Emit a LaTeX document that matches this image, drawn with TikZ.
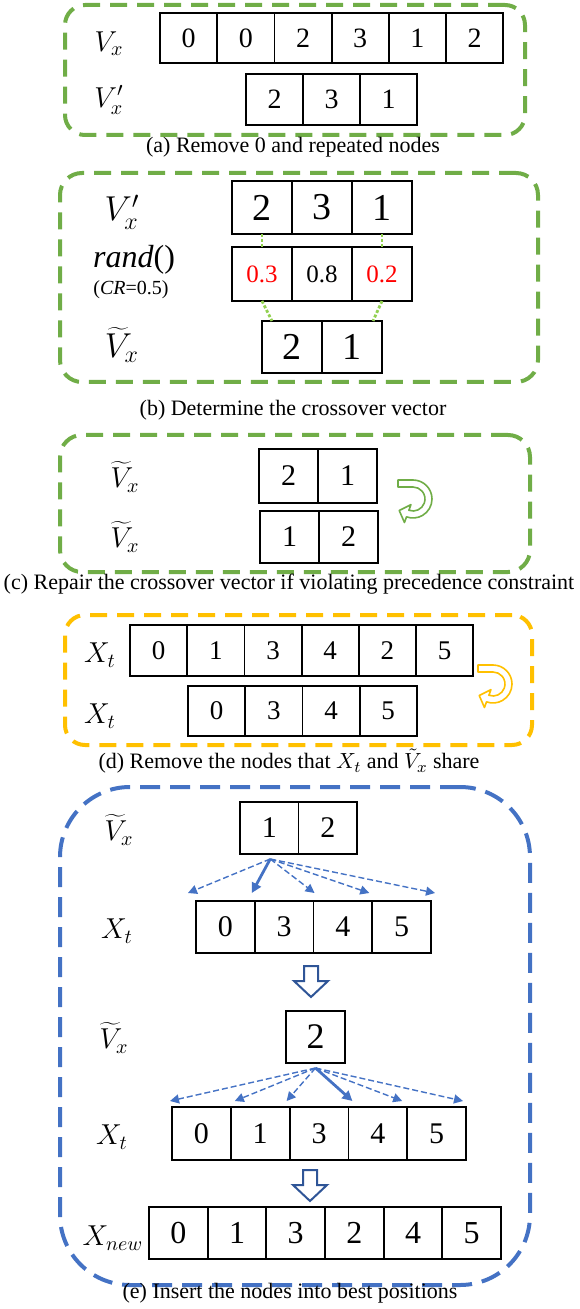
\documentclass[tikz,border=0pt]{standalone}
\usepackage{fontspec}
\setmainfont{Liberation Serif}
\usepackage{tikz}
\usetikzlibrary{arrows.meta, positioning, calc, fit}

\definecolor{boxgreen}{HTML}{70AD47}
\definecolor{dotgreen}{HTML}{92D050}
\definecolor{boxgold}{HTML}{FFC000}
\definecolor{boxblue}{HTML}{4472C4}
\definecolor{arrblue}{HTML}{2F5597}

\begin{document}
\begin{tikzpicture}[
    x=0.5pt, y=-0.5pt,
    cell/.style={draw, line width=0.9pt, inner sep=0pt, outer sep=0pt},
    num/.style={font=\fontsize{#1}{#1}\selectfont},
    lbl/.style={font=\fontsize{#1}{#1}\selectfont},
    lbl/.default=14.5,
    captxt/.style={font=\fontsize{11}{13}\selectfont},
    greenframe/.style={draw=boxgreen, line width=2pt, dash pattern=on 8.5pt off 5pt, rounded corners=10pt, inner sep=0pt},
    goldframe/.style={greenframe, draw=boxgold},
    blueframe/.style={draw=boxblue, line width=2pt, dash pattern=on 10pt off 5pt, rounded corners=35pt, inner sep=0pt},
    link/.style={draw=dotgreen, line width=1.4pt, dash pattern=on 1.5pt off 1pt},
    tryarr/.style={-{Triangle[length=4.5pt,width=4.5pt]}, boxblue, line width=0.7pt, dash pattern=on 3pt off 1.5pt},
    bestarr/.style={-{Triangle[length=5pt,width=5pt]}, boxblue, line width=1.4pt},
    uturn/.style={draw=#1, fill=white, line width=0.8pt, line join=round},
    hollow/.style={draw=arrblue, fill=white, line width=1pt},
  ]
  \useasboundingbox (0,0) rectangle (579,1309);

  % (a) remove 0 and repeated nodes
  \node[greenframe, fit={(65,5) (525,135)}] (framea) {};
  \foreach \val [count=\i] in {0,0,2,3,1,2}
    \node[cell, num=14, minimum width=28.6pt, minimum height=25pt] (va\i) at ({160+57.2*(\i-0.5)},38) {\val};
  \foreach \val [count=\i] in {2,3,1}
    \node[cell, num=14, minimum width=28.5pt, minimum height=25.5pt] (pa\i) at ({246+57*(\i-0.5)},99.5) {\val};
  \node[lbl] (lva) at (109,44) {$V_x$};
  \node[lbl] (lpa) at (109,100) {$V_x'$};
  \node[captxt] (capa) at (293,147) {(a) Remove 0 and repeated nodes};

  % (b) crossover vector
  \node[greenframe, rounded corners=11pt, fit={(60,173) (538,382)}] (frameb) {};
  \foreach \val [count=\i] in {2,3,1}
    \node[cell, num=19, minimum width=30pt, minimum height=26.5pt] (vb\i) at ({232+60*(\i-0.5)},207.5) {\val};
  \foreach \val/\col [count=\i] in {0.3/red,0.8/black,0.2/red}
    \node[cell, num=12.5, text=\col, minimum width=30pt, minimum height=27pt] (rb\i) at ({232+60*(\i-0.5)},274) {\val};
  \foreach \val [count=\i] in {2,1}
    \node[cell, num=19, minimum width=30pt, minimum height=26pt] (tb\i) at ({262+60*(\i-0.5)},347) {\val};
  \node[lbl=17] (lvb) at (122,212) {$V_x'$};
  \node[lbl=16] (lrand) at (134,260) {\textit{rand}()};
  \node[lbl=10] (lcr) at (131,290) {(\textit{CR}=0.5)};
  \node[lbl=17] (ltb) at (122,345) {$\widetilde{V}_x$};
  \draw[link] (vb1.south) -- (rb1.north);
  \draw[link] (vb3.south) -- (rb3.north);
  \draw[link] (rb1.south) -- ($(tb1.north west)+(10,0)$);
  \draw[link] (rb3.south) -- ($(tb2.north east)+(-9,0)$);
  \node[captxt] (capb) at (293,410) {(b) Determine the crossover vector};

  % (c) repair
  \node[greenframe, rounded corners=11pt, fit={(60,435) (530,572)}] (framec) {};
  \foreach \val [count=\i] in {2,1}
    \node[cell, num=15, minimum width=29.5pt, minimum height=27pt] (vc\i) at ({259+59*(\i-0.5)},476) {\val};
  \foreach \val [count=\i] in {1,2}
    \node[cell, num=15, minimum width=29.5pt, minimum height=26pt] (wc\i) at ({260+59*(\i-0.5)},537) {\val};
  \node[lbl] (lvc) at (125,477) {$\widetilde{V}_x$};
  \node[lbl] (lwc) at (125,537) {$\widetilde{V}_x$};
  \begin{scope}[shift={(413,499)}]
    \draw[uturn=boxgreen] (-15,-19) -- (0,-19) arc[start angle=-90, end angle=110, radius=19]
      -- (110:25) -- (-13.8,11.5) -- (110:6) -- (110:12)
      arc[start angle=110, end angle=-90, radius=12] -- (-15,-12) -- cycle;
  \end{scope}
  \node[captxt] (capc) at (289,584) {(c) Repair the crossover vector if violating precedence constraint};

  % (d) remove shared nodes
  \node[goldframe, fit={(65,615) (532,745)}] (framed) {};
  \foreach \val [count=\i] in {0,1,3,4,2,5}
    \node[cell, num=13.5, minimum width=28.6pt, minimum height=25.5pt] (xd\i) at ({130+57.2*(\i-0.5)},650.5) {\val};
  \foreach \val [count=\i] in {0,3,4,5}
    \node[cell, num=13.5, minimum width=28.6pt, minimum height=25pt] (yd\i) at ({188+57.2*(\i-0.5)},711) {\val};
  \node[lbl] (lxd) at (100,655) {$X_t$};
  \node[lbl] (lyd) at (100,716) {$X_t$};
  \begin{scope}[shift={(493,684)}]
    \draw[uturn=boxgold] (-15,-19) -- (0,-19) arc[start angle=-90, end angle=110, radius=19]
      -- (110:25) -- (-13.8,11.5) -- (110:6) -- (110:12)
      arc[start angle=110, end angle=-90, radius=12] -- (-15,-12) -- cycle;
  \end{scope}
  \node[captxt] (capd) at (289,761) {(d) Remove the nodes that $X_t$ and $\tilde{V}_x$ share};

  % (e) insert into best positions
  \node[blueframe, fit={(60,787) (530,1285)}] (framee) {};
  \foreach \val [count=\i] in {1,2}
    \node[cell, num=15, minimum width=29.25pt, minimum height=26pt] (ve\i) at ({240+58.5*(\i-0.5)},828) {\val};
  \foreach \val [count=\i] in {0,3,4,5}
    \node[cell, num=15, minimum width=29.4pt, minimum height=26pt] (fe\i) at ({196+58.75*(\i-0.5)},927) {\val};
  \node[lbl] (lve) at (119,830) {$\widetilde{V}_x$};
  \node[lbl] (lfe) at (117,931) {$X_t$};
  \coordinate (src1) at ($(ve1.south)+(1,5)$);
  \foreach \a/\dx/\st [count=\k] in {fe1.north west/-8/tryarr, fe1.north east/-3/bestarr,
      fe2.north east/1/tryarr, fe3.north east/-3/tryarr, fe4.north east/4/tryarr} {
    \coordinate (ta\k) at ($(\a)+(\dx,-8)$);
    \draw[\st] (src1) -- (ta\k);
  }
  \draw[hollow, shift={(311,966)}] (-7,0) -- (7,0) -- (7,15) -- (17,15) -- (0,31) -- (-17,15) -- (-7,15) -- cycle;

  \node[cell, num=18, minimum width=29.5pt, minimum height=26pt] (ge1) at (315.5,1037) {2};
  \foreach \val [count=\i] in {0,1,3,4,5}
    \node[cell, num=15, minimum width=29.4pt, minimum height=26.5pt] (he\i) at ({172+58.8*(\i-0.5)},1133.5) {\val};
  \node[lbl] (lge) at (114,1038) {$\widetilde{V}_x$};
  \node[lbl] (lhe) at (112,1137) {$X_t$};
  \coordinate (src2) at ($(ge1.south)+(0,5)$);
  \foreach \a/\dx/\st [count=\k] in {he1.north west/-2/tryarr, he1.north east/4/tryarr,
      he2.north east/-3/tryarr, he3.north east/4/bestarr, he4.north east/-5/tryarr, he5.north east/-3/tryarr} {
    \coordinate (tb\k) at ($(\a)+(\dx,-6)$);
    \draw[\st] (src2) -- (tb\k);
  }
  \draw[hollow, shift={(310,1170)}] (-7,0) -- (7,0) -- (7,15) -- (17,15) -- (0,31) -- (-17,15) -- (-7,15) -- cycle;

  \foreach \val [count=\i] in {0,1,3,2,4,5}
    \node[cell, num=16, minimum width=29.3pt, minimum height=26pt] (ne\i) at ({149+58.67*(\i-0.5)},1233) {\val};
  \node[lbl] (lne) at (113,1238) {$X_{new}$};
  \node[captxt] (cape) at (290,1293) {(e) Insert the nodes into best positions};
\end{tikzpicture}
\end{document}
